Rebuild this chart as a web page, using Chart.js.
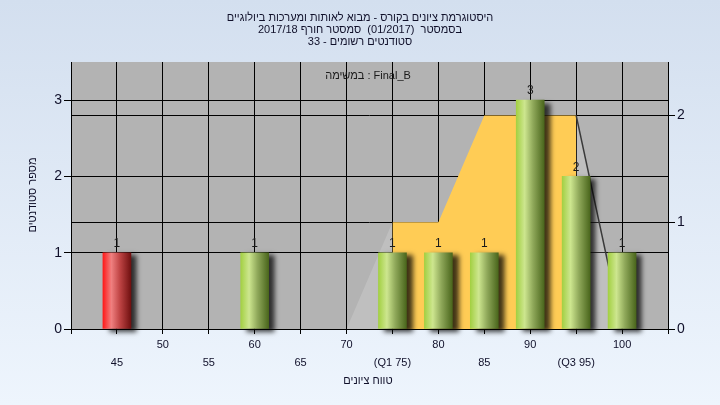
<!DOCTYPE html>
<html>
<head>
<meta charset="utf-8">
<script src="https://cdn.jsdelivr.net/npm/chart.js@4.4.0/dist/chart.umd.min.js"></script>
<style>
  html, body { margin: 0; padding: 0; width: 720px; height: 405px; overflow: hidden; }
</style>
</head>
<body>
<canvas id="chart" width="720" height="405"></canvas>
<script>
// --- Data ---
const scoreBins = [45, 60, 75, 80, 85, 90, 95, 100]
const studentCounts = [1, 1, 1, 1, 1, 3, 2, 1]
const curveScores = [70, 75, 80, 85, 90, 95, 100]
const curveValues = [0, 1, 1, 2, 2, 2, 0]
const q1Score = 75
const q3Score = 95
const passScore = 55
const xTickValues = [45, 50, 55, 60, 65, 70, 75, 80, 85, 90, 95, 100]
const xTickLabels = ['45', '50', '55', '60', '65', '70', '(Q1 75)', '80', '85', '90', '(Q3 95)', '100']
const leftTicks = [0, 1, 2, 3]
const rightTicks = [0, 1, 2]

const titleLines = [
  'היסטוגרמת ציונים בקורס - מבוא לאותות ומערכות ביולוגיים',
  'בסמסטר  (01/2017)  סמסטר חורף 2017/18',
  'סטודנטים רשומים - 33'
]
const taskLabel = 'במשימה : Final_B'
const xTitle = 'טווח ציונים'
const yTitle = 'מספר סטודנטים'

const FONT = "'Liberation Sans', 'DejaVu Sans', sans-serif"
const TEXT_COLOR = '#10102a'
const BAR_WIDTH = 28

// task label is laid out left to right, word by word
function drawWords(ctx, text, cx, y) {
  const words = text.split(' ')
  const space = ctx.measureText(' ').width
  const widths = words.map(w => ctx.measureText(w).width)
  const total = widths.reduce((s, w) => s + w, 0) + space * (words.length - 1)
  let x = cx - total / 2
  ctx.textAlign = 'left'
  words.forEach((w, i) => {
    if (w) ctx.fillText(w, x, y)
    x += widths[i] + space
  })
}

function cylinder(c) {
  const chart = c.chart
  const xs = chart.scales.x
  if (!xs || !c.raw) return '#9acd3c'
  const cx = xs.getPixelForValue(c.raw.x)
  if (!Number.isFinite(cx)) return '#9acd3c'
  const g = chart.ctx.createLinearGradient(cx - BAR_WIDTH / 2, 0, cx + BAR_WIDTH / 2, 0)
  if (c.raw.x < passScore) {
    g.addColorStop(0, '#ff1a1a')
    g.addColorStop(0.3, '#f08080')
    g.addColorStop(0.6, '#c04545')
    g.addColorStop(1, '#701010')
  } else {
    g.addColorStop(0, '#a3d043')
    g.addColorStop(0.3, '#cde68f')
    g.addColorStop(0.6, '#8fa85a')
    g.addColorStop(1, '#4a661c')
  }
  return g
}

const inIqr = (c) => c.p0.parsed.x >= q1Score && c.p1.parsed.x <= q3Score

// --- Plugins ---
const backdrop = {
  id: 'backdrop',
  beforeDraw(chart) {
    const { ctx, width, height, chartArea: a } = chart
    const g = ctx.createLinearGradient(0, 0, 0, height)
    g.addColorStop(0, '#d3dfef')
    g.addColorStop(1, '#eef5fd')
    ctx.save()
    ctx.fillStyle = g
    ctx.fillRect(0, 0, width, height)
    ctx.fillStyle = '#b3b3b3'
    ctx.fillRect(a.left, a.top, a.right - a.left, a.bottom - a.top)
    ctx.restore()
  }
}

const barShadow = {
  id: 'barShadow',
  beforeDatasetDraw(chart, args) {
    if (args.meta.type !== 'bar') return
    const ctx = chart.ctx
    ctx.save()
    ctx.shadowColor = 'rgba(0, 0, 0, 0.75)'
    ctx.shadowBlur = 5
    ctx.shadowOffsetX = 6
    ctx.shadowOffsetY = 3
  },
  afterDatasetDraw(chart, args) {
    if (args.meta.type !== 'bar') return
    chart.ctx.restore()
  }
}

const texts = {
  id: 'texts',
  afterDatasetsDraw(chart) {
    const ctx = chart.ctx
    const a = chart.chartArea
    ctx.save()
    ctx.direction = 'ltr'
    ctx.fillStyle = '#1a1a1a'
    ctx.font = '12px ' + FONT
    ctx.textAlign = 'center'
    ctx.textBaseline = 'bottom'
    // value labels on the bars
    const meta = chart.getDatasetMeta(0)
    meta.data.forEach((el, i) => {
      ctx.fillText(String(studentCounts[i]), el.x, el.y - 3)
    })

    ctx.textBaseline = 'middle'
    ctx.font = '11px ' + FONT
    drawWords(ctx, taskLabel, 368, a.top + 14)

    // chart titles, right-to-left
    ctx.direction = 'rtl'
    ctx.textAlign = 'center'
    ctx.fillStyle = TEXT_COLOR
    titleLines.forEach((line, i) => {
      ctx.fillText(line, 360, 18 + i * 12)
    })

    // axis titles
    ctx.fillText(xTitle, 368, 381)
    ctx.translate(33, 195)
    ctx.rotate(-Math.PI / 2)
    ctx.fillText(yTitle, 0, 0)
    ctx.restore()
  }
}

// --- Chart ---
new Chart(document.getElementById('chart'), {
  type: 'bar',
  data: {
    datasets: [
      {
        label: 'students',
        data: scoreBins.map((s, i) => ({ x: s, y: studentCounts[i] })),
        backgroundColor: cylinder,
        barThickness: BAR_WIDTH,
        borderWidth: 0,
        clip: false,
        yAxisID: 'y',
        order: 0
      },
      {
        type: 'line',
        label: 'spread',
        data: curveScores.map((s, i) => ({ x: s, y: curveValues[i] })),
        yAxisID: 'y1',
        fill: 'origin',
        backgroundColor: 'rgba(255, 255, 255, 0.17)',
        borderColor: '#3a3a3a',
        borderWidth: 1.5,
        pointRadius: 0,
        tension: 0,
        order: 1,
        segment: {
          backgroundColor: c => inIqr(c) ? '#ffcc55' : 'rgba(255, 255, 255, 0.17)',
          borderColor: c => c.p0.parsed.x >= q3Score ? '#3a3a3a' : 'rgba(0, 0, 0, 0)'
        }
      }
    ]
  },
  options: {
    responsive: false,
    devicePixelRatio: 1,
    animation: false,
    layout: { padding: { top: 62, left: 0, right: 0, bottom: 0 } },
    plugins: {
      legend: { display: false },
      tooltip: { enabled: false },
      title: { display: false }
    },
    scales: {
      x: {
        type: 'linear',
        min: 40,
        max: 105,
        offset: false,
        afterFit: s => { s.height = 76 },
        grid: { color: '#000', lineWidth: 1, tickLength: 5, offset: false },
        border: { color: '#000', width: 1 },
        ticks: {
          stepSize: 5,
          autoSkip: false,
          maxRotation: 0,
          padding: 2,
          color: TEXT_COLOR,
          font: { family: FONT, size: 11, lineHeight: '18px' },
          callback: v => {
            const i = xTickValues.indexOf(v)
            if (i < 0) return ''
            return i % 2 === 0 ? ['', xTickLabels[i]] : [xTickLabels[i]]
          }
        }
      },
      y: {
        position: 'left',
        min: 0,
        max: 3.5,
        afterFit: s => { s.width = 71 },
        afterBuildTicks: s => { s.ticks = leftTicks.map(v => ({ value: v })) },
        grid: { color: '#000', lineWidth: 1, tickLength: 7 },
        border: { color: '#000', width: 1 },
        ticks: { padding: 2, color: TEXT_COLOR, font: { family: FONT, size: 14 } }
      },
      y1: {
        position: 'right',
        min: 0,
        max: 2.5,
        afterFit: s => { s.width = 52 },
        afterBuildTicks: s => { s.ticks = rightTicks.map(v => ({ value: v })) },
        grid: { color: '#000', lineWidth: 1, tickLength: 7 },
        border: { color: '#000', width: 1 },
        ticks: { padding: 2, color: TEXT_COLOR, font: { family: FONT, size: 14 } }
      }
    }
  },
  plugins: [backdrop, barShadow, texts]
})
</script>
</body>
</html>
